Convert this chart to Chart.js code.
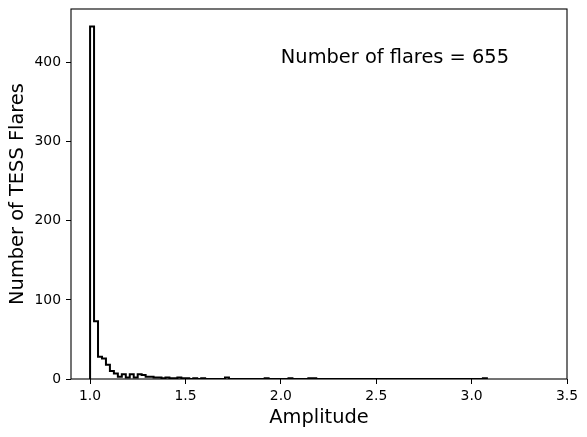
<!DOCTYPE html>
<html>
<head>
<meta charset="utf-8">
<script src="https://cdn.jsdelivr.net/npm/chart.js@4.4.0/dist/chart.umd.min.js"></script>
<style>
html, body { margin: 0; padding: 0; background: #fff; }
#wrap { width: 587px; height: 437px; }
</style>
</head>
<body>
<div id="wrap"><canvas id="flareChart" width="587" height="437"></canvas></div>
<script>
//1) DATA//
var binStart = 1.0
var binWidth = 0.0208
var flareCounts = [
   446, 73, 28, 26, 18, 10, 7, 3, 6, 2,
   6, 2, 6, 5, 3, 3, 2, 2, 1, 2,
   1, 1, 2, 1, 1, 0, 1, 0, 1, 0,
   0, 0, 0, 0, 2, 0, 0, 0, 0, 0,
   0, 0, 0, 0, 1, 0, 0, 0, 0, 0,
   1, 0, 0, 0, 0, 1, 1, 0, 0, 0,
   0, 0, 0, 0, 0, 0, 0, 0, 0, 0,
   0, 0, 0, 0, 0, 0, 0, 0, 0, 0,
   0, 0, 0, 0, 0, 0, 0, 0, 0, 0,
   0, 0, 0, 0, 0, 0, 0, 0, 0, 1
]
var xTicks = [1.0, 1.5, 2.0, 2.5, 3.0, 3.5]
var yTicks = [0, 100, 200, 300, 400]
var noteText = 'Number of flares = 655'
var noteAt = { x: 2.0, y: 400 }

//2) STEP OUTLINE (histtype step)//
var binEdges = []
for (let i = 0; i <= flareCounts.length; i++) {
   binEdges.push(binStart + i * binWidth)
}
var stepPoints = [{ x: binEdges[0], y: 0 }]
flareCounts.forEach((c, i) => {
   stepPoints.push({ x: binEdges[i], y: c })
})
stepPoints.push({ x: binEdges[flareCounts.length], y: flareCounts[flareCounts.length - 1] })
stepPoints.push({ x: binEdges[flareCounts.length], y: 0 })

const FONT = 'DejaVu Sans'

//3) PLUGINS//
const frameAndNote = {
   id: 'frameAndNote',
   afterDraw(chart) {
      const ctx = chart.ctx
      const a = chart.chartArea
      ctx.save()
      ctx.strokeStyle = '#000'
      ctx.lineWidth = 1.1
      ctx.strokeRect(a.left, a.top, a.right - a.left, a.bottom - a.top)
      ctx.fillStyle = '#000'
      ctx.font = '19.4px "' + FONT + '"'
      ctx.textAlign = 'left'
      ctx.textBaseline = 'alphabetic'
      ctx.fillText(noteText, chart.scales.x.getPixelForValue(noteAt.x), chart.scales.y.getPixelForValue(noteAt.y))
      ctx.restore()
   }
}

//4) CHART//
const ctx_flare = document.getElementById('flareChart').getContext('2d')
const flareChart = new Chart(ctx_flare, {
   type: 'line',
   data: {
      datasets: [{
         data: stepPoints,
         borderColor: '#000',
         borderWidth: 2,
         stepped: 'before',
         pointRadius: 0,
         fill: false,
         tension: 0
      }]
   },
   plugins: [frameAndNote],
   options: {
      responsive: false,
      animation: false,
      devicePixelRatio: 1,
      layout: { padding: { left: 0, right: 20, top: 9, bottom: 0 } },
      plugins: {
         legend: { display: false },
         tooltip: { enabled: false }
      },
      scales: {
         x: {
            type: 'linear',
            min: 0.9,
            max: 3.5,
            afterBuildTicks: s => { s.ticks = xTicks.map(v => ({ value: v })) },
            afterFit: s => { s.height = 58; s.paddingLeft = 0; s.paddingRight = 0 },
            ticks: {
               callback: v => v.toFixed(1),
               color: '#000',
               font: { family: FONT, size: 13.9 },
               padding: 4,
               maxRotation: 0,
               autoSkip: false
            },
            grid: { drawOnChartArea: false, drawTicks: true, tickLength: 5, color: '#000', lineWidth: 1 },
            border: { display: false },
            title: {
               display: true,
               text: 'Amplitude',
               color: '#000',
               font: { family: FONT, size: 19.4 },
               padding: { top: 0, bottom: 7 }
            }
         },
         y: {
            type: 'linear',
            min: 0,
            max: 468,
            afterBuildTicks: s => { s.ticks = yTicks.map(v => ({ value: v })) },
            afterFit: s => { s.width = 71; s.paddingTop = 0; s.paddingBottom = 0 },
            ticks: {
               callback: v => String(v),
               color: '#000',
               font: { family: FONT, size: 13.9 },
               padding: 5,
               autoSkip: false
            },
            grid: { drawOnChartArea: false, drawTicks: true, tickLength: 5, color: '#000', lineWidth: 1 },
            border: { display: false },
            title: {
               display: true,
               text: 'Number of TESS Flares',
               color: '#000',
               font: { family: FONT, size: 19.4 },
               padding: { top: 6, bottom: 0 }
            }
         }
      }
   }
})
</script>
</body>
</html>
